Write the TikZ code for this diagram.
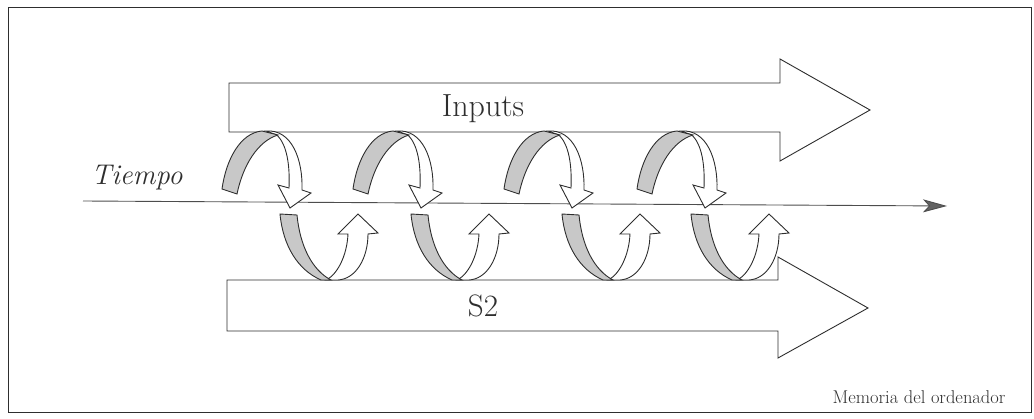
\documentclass[tikz,border=0pt]{standalone}
\usetikzlibrary{arrows.meta}
\definecolor{ink}{HTML}{2E2E2E}
\definecolor{band}{HTML}{C8C8C8}
\tikzset{
  outline/.style={draw=ink, line width=0.9pt, line join=miter},
  bigarrow/.style={outline, fill=white},
  backband/.style={outline, fill=band},
  frontband/.style={outline, fill=white},
  timeaxis/.style={draw=ink!85, line width=0.9pt,
    -{Stealth[length=24pt,width=13pt,inset=6pt,fill=ink!75]}},
  label/.style={text=ink, inner sep=0pt},
}
\begin{document}
\begin{tikzpicture}[x=1pt,y=-1pt]
\useasboundingbox (0,0) rectangle (1034,419);
% outer frame
\draw[ink, line width=1pt] (8,8) rectangle (1031,413);

% wide arrow for the inputs
\draw[bigarrow] (229,83) -- (780,83) -- (780,59) -- (870,110) -- (780,161) -- (780,132) -- (229,132) -- cycle;
\node[label, font=\fontsize{32}{34}\selectfont, anchor=base] (inputs) at (483,117) {Inputs};

% wide arrow for S2
\draw[bigarrow] (227,280) -- (778,280) -- (778,257) -- (868,308) -- (778,358) -- (778,331) -- (227,331) -- cycle;
\node[label, font=\fontsize{31}{33}\selectfont, anchor=base] (s2) at (483,317) {S2};

% time axis
\coordinate (t0) at (83,201);
\coordinate (t1) at (947,206);
\draw[timeaxis] (t0) -- (t1);
\node[label, font=\itshape\fontsize{28.5}{30}\selectfont, anchor=base] (tiempo) at (137,185) {Tiempo};

% curled ribbons between the two streams
\foreach \dx/\dy in {0/0,131/131,282/282,415/411} {
  % upper curl: leaves the inputs and drops onto the time axis
  \begin{scope}[xshift=\dx pt]
    \draw[frontband] (277,135) -- (266,131)
      .. controls (292,129) and (303,160) .. (302,190)
      -- (311,193) -- (290,208) -- (278,185) -- (289,188)
      .. controls (290,165) and (287,145) .. (277,135) -- cycle;
    \draw[backband] (222,189)
      .. controls (226,160) and (240,133) .. (262,131)
      -- (278,135)
      .. controls (258,141) and (243,165) .. (237,194) -- cycle;
  \end{scope}
  % lower curl: rises from S2 back to the time axis
  \begin{scope}[xshift=\dy pt]
    \draw[frontband] (326,280)
      .. controls (337,275) and (347,256) .. (348,234)
      -- (338,234) -- (358,214) -- (378,233) -- (368,234)
      .. controls (368,258) and (356,279) .. (338,280) -- cycle;
    \draw[backband] (280,214) -- (297,215)
      .. controls (300,246) and (312,270) .. (331,280)
      -- (321,280)
      .. controls (298,270) and (283,246) .. (280,214) -- cycle;
  \end{scope}
}

\node[label, font=\fontsize{18.5}{20}\selectfont, anchor=base] (memoria) at (919,404) {Memoria del ordenador};
\end{tikzpicture}
\end{document}
